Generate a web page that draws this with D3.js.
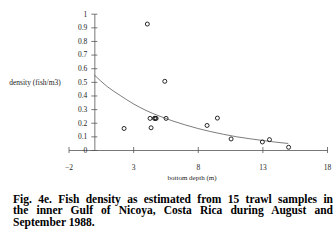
<!DOCTYPE html>
<html>
<head>
<meta charset="utf-8">
<script src="https://cdn.jsdelivr.net/npm/d3@7"></script>
<style>
  body { margin: 0; background: #fff; }
  text { font-family: "Liberation Serif", "Times New Roman", serif; }
</style>
</head>
<body>
<svg id="chart" width="335" height="246"></svg>
<script>
// trawl samples: bottom depth (m) and fish density (fish/m3)
var depth   = [4.1, 5.45, 2.3, 4.31, 4.65, 4.72, 4.78, 4.39, 5.55, 8.72, 9.52, 10.58, 13.0, 13.55, 15.03];
var density = [0.924, 0.504, 0.158, 0.232, 0.232, 0.232, 0.232, 0.163, 0.232, 0.18, 0.234, 0.081, 0.059, 0.076, 0.02];

// fitted curve
var curveX = [0, 1, 2, 3, 4, 5, 6, 7, 8, 9, 10, 11, 12, 13, 14, 15];
var curveY = [0.55, 0.465, 0.40, 0.34, 0.29, 0.25, 0.215, 0.185, 0.158, 0.135, 0.115, 0.097, 0.083, 0.07, 0.058, 0.048];

var xTicks = [-2, 3, 8, 13, 18];
var yTicks = [0, 0.1, 0.2, 0.3, 0.4, 0.5, 0.6, 0.7, 0.8, 0.9, 1];

var captionLines = [
  "Fig. 4e. Fish density as estimated from 15 trawl samples in",
  "the inner Gulf of Nicoya, Costa Rica during August and",
  "September 1988."
];

var svg = d3.select("#chart");
svg.append("rect").attr("width", 335).attr("height", 246).attr("fill", "#fff");

var x = d3.scaleLinear().domain([-2, 18]).range([68.5, 327]);
var y = d3.scaleLinear().domain([0, 1]).range([150, 13.7]);

// x axis, ticks crossing the line
var gx = svg.append("g")
  .attr("transform", "translate(0," + y(0) + ")")
  .call(d3.axisBottom(x).tickValues(xTicks).tickSizeInner(3).tickSizeOuter(0).tickPadding(12)
    .tickFormat(d3.format("d")));
gx.selectAll(".tick line").attr("y1", -3).attr("y2", 3);

// y axis, at x = 0
var gy = svg.append("g")
  .attr("transform", "translate(" + x(0) + ",0)")
  .call(d3.axisLeft(y).tickValues(yTicks).tickSizeInner(3).tickSizeOuter(0).tickPadding(4)
    .tickFormat(function (d) { return d === 0 || d === 1 ? d3.format("d")(d) : d3.format(".1f")(d); }));
gy.selectAll(".tick line").attr("x1", -3).attr("x2", 3);

svg.selectAll(".domain, .tick line").attr("stroke", "#555").attr("stroke-width", 0.8);
svg.selectAll(".tick text")
  .attr("font-family", "Liberation Serif, serif")
  .attr("font-size", 7.5)
  .attr("fill", "#222");

// fitted curve
var line = d3.line()
  .x(function (d, i) { return x(curveX[i]); })
  .y(function (d) { return y(d); })
  .curve(d3.curveMonotoneX);

svg.append("path")
  .datum(curveY)
  .attr("d", line)
  .attr("fill", "none")
  .attr("stroke", "#444")
  .attr("stroke-width", 0.7);

// sample points
svg.selectAll(".pt")
  .data(depth)
  .enter()
  .append("circle")
  .attr("class", "pt")
  .attr("cx", function (d) { return x(d); })
  .attr("cy", function (d, i) { return y(density[i]); })
  .attr("r", 2)
  .attr("fill", "none")
  .attr("stroke", "#111")
  .attr("stroke-width", 0.9);

// axis titles
svg.append("text")
  .attr("x", 35)
  .attr("y", 85)
  .attr("text-anchor", "middle")
  .attr("font-size", 7.5)
  .attr("fill", "#222")
  .text("density (fish/m3)");

svg.append("text")
  .attr("x", 192)
  .attr("y", 180)
  .attr("text-anchor", "middle")
  .attr("font-size", 7)
  .attr("fill", "#222")
  .text("bottom depth (m)");

// caption, first two lines justified by widening the word gaps
var capWidth = 320;
svg.selectAll(".cap")
  .data(captionLines)
  .enter()
  .append("text")
  .attr("class", "cap")
  .attr("x", 13)
  .attr("y", function (d, i) { return 203 + i * 11.3; })
  .attr("font-size", 11.5)
  .attr("font-weight", "bold")
  .attr("fill", "#000")
  .text(function (d) { return d; })
  .each(function (d, i) {
    if (i < 2) {
      var gaps = d.split(" ").length - 1;
      var extra = (capWidth - this.getComputedTextLength()) / gaps;
      d3.select(this).attr("word-spacing", extra);
      if (this.getComputedTextLength() > capWidth + 1) {
        d3.select(this).attr("textLength", capWidth).attr("lengthAdjust", "spacingAndGlyphs");
      }
    }
  });
</script>
</body>
</html>
